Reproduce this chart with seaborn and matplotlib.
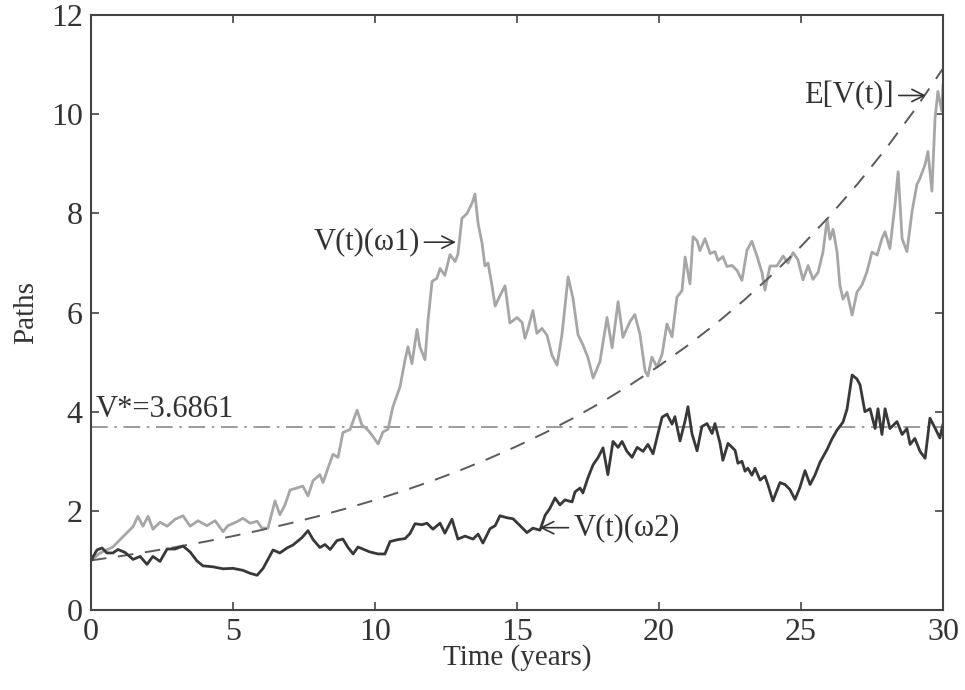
import numpy as np
import pandas as pd
import matplotlib
matplotlib.use("Agg")
import matplotlib.pyplot as plt
import seaborn as sns

# ---- data ----
t_w1 = [0.00, 0.32, 0.77, 1.13, 1.48, 1.65, 1.83, 2.01, 2.18, 2.43, 2.68, 2.96, 3.24, 3.49, 3.77, 4.08,
        4.37, 4.65, 4.82, 5.14, 5.35, 5.60, 5.85, 6.02, 6.23, 6.48, 6.65, 6.83, 7.01, 7.25, 7.46, 7.64,
        7.82, 8.06, 8.17, 8.35, 8.52, 8.70, 8.87, 9.12, 9.37, 9.54, 9.72, 9.89, 10.11, 10.28, 10.46,
        10.63, 10.88, 11.06, 11.16, 11.30, 11.48, 11.58, 11.76, 11.87, 12.01, 12.18, 12.29, 12.46, 12.64,
        12.82, 12.92, 13.06, 13.24, 13.42, 13.52, 13.63, 13.77, 13.87, 13.98, 14.12, 14.23, 14.40, 14.58,
        14.75, 15.00, 15.18, 15.28, 15.39, 15.56, 15.70, 15.88, 16.06, 16.23, 16.41, 16.58, 16.80, 16.97,
        17.15, 17.32, 17.50, 17.68, 17.92, 18.17, 18.35, 18.56, 18.73, 18.98, 19.15, 19.33, 19.51, 19.61,
        19.75, 19.93, 20.11, 20.28, 20.46, 20.63, 20.81, 20.92, 21.09, 21.20, 21.34, 21.44, 21.62, 21.80,
        21.97, 22.08, 22.25, 22.39, 22.57, 22.75, 22.92, 23.10, 23.27, 23.45, 23.63, 23.73, 23.91, 24.15,
        24.37, 24.54, 24.72, 24.89, 25.07, 25.25, 25.42, 25.60, 25.77, 25.92, 26.02, 26.13, 26.27, 26.37,
        26.48, 26.62, 26.80, 26.97, 27.15, 27.32, 27.50, 27.68, 27.85, 27.96, 28.13, 28.31, 28.42, 28.56,
        28.73, 28.91, 29.08, 29.19, 29.37, 29.47, 29.61, 29.72, 29.82, 29.96, 30.00]
v_w1 = [1.00, 1.15, 1.27, 1.48, 1.68, 1.89, 1.69, 1.89, 1.63, 1.77, 1.69, 1.83, 1.90, 1.69, 1.80, 1.70,
        1.80, 1.58, 1.70, 1.78, 1.85, 1.75, 1.79, 1.65, 1.65, 2.20, 1.92, 2.12, 2.42, 2.46, 2.50, 2.30,
        2.61, 2.73, 2.57, 2.87, 3.14, 3.08, 3.58, 3.64, 4.03, 3.73, 3.65, 3.53, 3.35, 3.59, 3.65,
        4.10, 4.50, 5.05, 5.31, 4.97, 5.66, 5.31, 5.05, 5.86, 6.63, 6.69, 6.89, 6.75, 7.17,
        7.03, 7.18, 7.90, 8.00, 8.21, 8.39, 7.80, 7.40, 6.94, 7.00, 6.54, 6.13, 6.34, 6.54,
        5.79, 5.90, 5.80, 5.48, 5.68, 6.04, 5.58, 5.68, 5.54, 5.14, 4.94, 5.54, 6.72, 6.29,
        5.55, 5.35, 5.09, 4.68, 5.01, 5.90, 5.29, 6.22, 5.50, 5.82, 5.96, 5.56, 4.82, 4.72,
        5.10, 4.90, 5.16, 5.77, 5.51, 6.31, 6.44, 7.12, 6.58, 7.53, 7.45, 7.25, 7.49, 7.19,
        7.23, 7.05, 7.13, 6.93, 6.95, 6.85, 6.65, 7.26, 7.44, 7.14, 6.80, 6.45, 6.94, 6.94,
        7.14, 7.00, 7.21, 7.07, 6.66, 6.95, 6.67, 6.81, 7.21, 7.88, 7.48, 7.68, 7.22, 6.55,
        6.27, 6.41, 5.95, 6.41, 6.56, 6.82, 7.22, 7.16, 7.49, 7.63, 7.29, 8.18, 8.84, 7.49,
        7.23, 8.04, 8.58, 8.71, 8.99, 9.25, 8.45, 9.92, 10.46, 10.06, 10.60]

t_w2 = [0.00, 0.21, 0.39, 0.56, 0.77, 0.95, 1.20, 1.48, 1.73, 1.97, 2.18, 2.43, 2.68, 2.96, 3.24, 3.49,
        3.73, 3.94, 4.30, 4.65, 5.00, 5.35, 5.60, 5.85, 6.06, 6.41, 6.65, 6.90, 7.11, 7.43, 7.64, 7.82,
        8.06, 8.24, 8.42, 8.66, 8.87, 9.05, 9.23, 9.40, 9.65, 9.82, 10.11, 10.35, 10.53, 10.81, 11.06,
        11.23, 11.41, 11.65, 11.83, 12.04, 12.29, 12.46, 12.71, 12.92, 13.17, 13.45, 13.63, 13.80, 14.05,
        14.23, 14.40, 14.65, 14.86, 15.11, 15.35, 15.56, 15.81, 15.99, 16.16, 16.34, 16.51, 16.69, 16.94,
        17.04, 17.22, 17.32, 17.50, 17.68, 17.85, 18.03, 18.20, 18.38, 18.56, 18.70, 18.87, 19.05, 19.23,
        19.44, 19.61, 19.79, 19.96, 20.11, 20.28, 20.46, 20.56, 20.74, 20.92, 21.02, 21.16, 21.34, 21.51,
        21.69, 21.87, 21.97, 22.15, 22.25, 22.43, 22.68, 22.78, 22.92, 23.03, 23.13, 23.27, 23.38, 23.56,
        23.73, 23.84, 24.01, 24.26, 24.44, 24.61, 24.79, 24.96, 25.14, 25.32, 25.49, 25.67, 25.92, 26.09,
        26.27, 26.48, 26.62, 26.80, 26.97, 27.08, 27.25, 27.43, 27.61, 27.71, 27.85, 27.96, 28.13, 28.38,
        28.56, 28.73, 28.84, 29.01, 29.19, 29.37, 29.54, 29.72, 29.89, 30.00]
v_w2 = [1.00, 1.21, 1.25, 1.15, 1.15, 1.22, 1.16, 1.02, 1.08, 0.92, 1.08, 0.98, 1.23, 1.23, 1.29, 1.17,
        0.99, 0.89, 0.87, 0.83, 0.84, 0.80, 0.74, 0.70, 0.84, 1.21, 1.15, 1.25, 1.31, 1.46, 1.60, 1.42,
        1.26, 1.32, 1.22, 1.40, 1.43, 1.26, 1.13, 1.27, 1.21, 1.17, 1.13, 1.13, 1.38, 1.42, 1.44,
        1.54, 1.74, 1.72, 1.75, 1.63, 1.75, 1.55, 1.83, 1.43, 1.49, 1.43, 1.53, 1.35, 1.64,
        1.70, 1.90, 1.86, 1.84, 1.70, 1.56, 1.65, 1.61, 1.91, 2.05, 2.26, 2.12, 2.22, 2.18,
        2.38, 2.46, 2.36, 2.67, 2.93, 3.07, 3.27, 2.73, 3.40, 3.28, 3.40, 3.20, 3.08, 3.28,
        3.20, 3.34, 3.15, 3.55, 3.89, 3.95, 3.75, 3.90, 3.41, 3.82, 4.10, 3.56, 3.21, 3.70,
        3.76, 3.56, 3.76, 3.36, 3.02, 3.36, 3.22, 2.96, 3.00, 2.80, 2.86, 2.72, 2.86, 2.62,
        2.70, 2.52, 2.20, 2.57, 2.53, 2.43, 2.23, 2.47, 2.81, 2.53, 2.72, 2.98, 3.24, 3.45,
        3.63, 3.79, 4.05, 4.74, 4.66, 4.54, 4.00, 4.06, 3.66, 4.06, 3.54, 4.06, 3.66, 3.80,
        3.54, 3.66, 3.34, 3.46, 3.20, 3.06, 3.87, 3.67, 3.47, 3.75]

t_exp = list(range(0, 31))
v_exp = [1.000, 1.083, 1.173, 1.270, 1.376, 1.490, 1.613, 1.747, 1.892, 2.049, 2.219, 2.403, 2.602,
         2.818, 3.052, 3.305, 3.579, 3.876, 4.198, 4.546, 4.923, 5.332, 5.774, 6.253, 6.772, 7.334,
         7.942, 8.601, 9.314, 10.087, 10.924]

v_star = 3.6861
x_ticks = [0, 5, 10, 15, 20, 25, 30]
y_ticks = [0, 2, 4, 6, 8, 10, 12]

# ---- style ----
sns.set_theme(style="white")
plt.rcParams["font.family"] = ["Liberation Serif", "DejaVu Serif"]
plt.rcParams["mathtext.fontset"] = "stix"

fig = plt.figure(figsize=(9.65, 6.9), dpi=100)
ax = fig.add_axes([0.0943, 0.116, 0.8829, 0.862])

df1 = pd.DataFrame({"t": t_w1, "v": v_w1})
df2 = pd.DataFrame({"t": t_w2, "v": v_w2})
dfe = pd.DataFrame({"t": t_exp, "v": v_exp})
dfs = pd.DataFrame({"t": [0, 30], "v": [v_star, v_star]})

sns.lineplot(data=dfs, x="t", y="v", ax=ax, color="#8a8a8a", lw=1.2,
             linestyle=(0, (10, 4, 1.5, 4)), estimator=None, sort=False)
sns.lineplot(data=df1, x="t", y="v", ax=ax, color="#a6a6a6", lw=2.0,
             estimator=None, sort=False)
sns.lineplot(data=dfe, x="t", y="v", ax=ax, color="#5a5a5a", lw=1.4,
             linestyle=(0, (8, 6)), estimator=None, sort=False)
sns.lineplot(data=df2, x="t", y="v", ax=ax, color="#383838", lw=2.0,
             estimator=None, sort=False)

ax.set_xlim(0, 30)
ax.set_ylim(0, 12)
ax.set_xticks(x_ticks)
ax.set_yticks(y_ticks)
ax.tick_params(direction="in", length=6, width=1.2, colors="#444444",
               labelcolor="#333333", labelsize=23, top=True, right=True,
               bottom=True, left=True, pad=6)
for s in ax.spines.values():
    s.set_visible(True)
    s.set_color("#444444")
    s.set_linewidth(1.5)

ax.set_xlabel("Time (years)", fontsize=21, color="#333333", labelpad=-2)
ax.set_ylabel("Paths", fontsize=21, color="#333333", labelpad=8)

tc = "#333333"
arrow = dict(arrowstyle="->", lw=1.2, color="#333333", shrinkA=1, shrinkB=0)
ax.text(0.15, 4.05, "V*=3.6861", fontsize=22, color=tc, ha="left", va="center")
ax.annotate("V(t)(ω1)", xy=(12.85, 7.42), xytext=(9.7, 7.42), fontsize=22, color=tc,
            ha="center", va="center", arrowprops=arrow)
ax.annotate("V(t)(ω2)", xy=(15.8, 1.66), xytext=(18.85, 1.66), fontsize=22, color=tc,
            ha="center", va="center", arrowprops=arrow)
ax.annotate("E[V(t)]", xy=(29.4, 10.38), xytext=(26.7, 10.38), fontsize=22, color=tc,
            ha="center", va="center", arrowprops=arrow)

fig.savefig("out.png", dpi=100)
